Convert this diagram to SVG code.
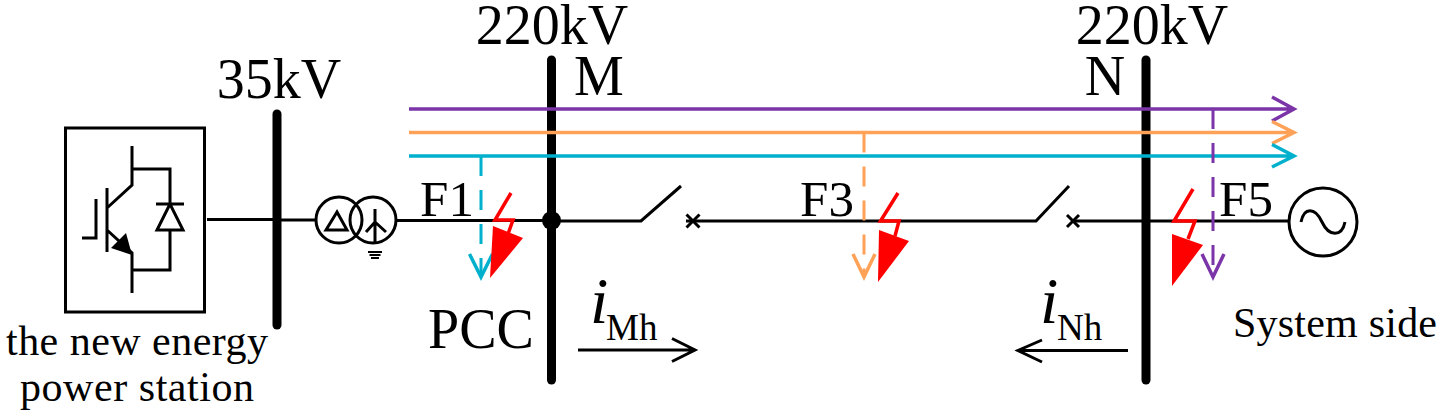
<svg xmlns="http://www.w3.org/2000/svg" width="1442" height="417" viewBox="0 0 1442 417">
<style>
.l{fill:none;stroke:#000;stroke-width:3}
.bus{fill:none;stroke:#000;stroke-width:9;stroke-linecap:round}
.t{font-family:"Liberation Serif",serif;fill:#000}
.big{font-size:56px}
.f{font-size:51px}
.sm{font-size:42px}
.i{font-size:66px;font-style:italic}
.sub{font-size:37px}
.pu{stroke:#7b35a8}.or{stroke:#ffa257}.cy{stroke:#00b0cc}
.w{fill:none;stroke-width:3.5}
.d{stroke-dasharray:20 14;stroke-width:3;fill:none}
.r{fill:none;stroke:#f00;stroke-width:3.5}
</style>
<rect width="1442" height="417" fill="#fff"/>
<g id="connectors">
<path class="l" d="M207 219.500H277M277 220H317M397 220.500H551M551 221H641L681 186M686 221H1036L1069 186M1073 221H1289"/>
</g>
<g id="station">
<rect x="65.500" y="128" width="139" height="184" fill="none" stroke="#000" stroke-width="3"/>
<path class="l" d="M132 146V185L107 208M107 188V252M96 199V238H82M107 230L132 253V293M132 169H170V204M132 270H170V230M156 204H184M170 204L157 230H183Z"/>
<path d="M111 248L126 233L132 255Z" fill="#000"/>
<text class="t sm" x="6" y="355" textLength="262" lengthAdjust="spacing">the new energy</text>
<text class="t sm" x="20" y="401" textLength="234" lengthAdjust="spacing">power station</text>
</g>
<g id="bus35">
<path class="bus" d="M277 114V325"/>
<text class="t big" x="279" y="98" text-anchor="middle">35kV</text>
</g>
<g id="transformer">
<circle cx="339" cy="220" r="23" fill="#fff" stroke="#000" stroke-width="3"/>
<circle cx="373" cy="220" r="23" fill="none" stroke="#000" stroke-width="3"/>
<path class="l" d="M337 212L326 230H347Z"/>
<path class="l" d="M375 209V243M366 232L375 222L386 232"/>
<path d="M368 252H382M369.500 255H380.500M371 258H379" stroke="#000" stroke-width="2" fill="none"/>
</g>
<g id="busM">
<path class="bus" d="M551.500 60V380"/>
<circle cx="551.500" cy="220.500" r="9.500" fill="#000"/>
<text class="t big" x="552" y="44" text-anchor="middle">220kV</text>
<text class="t big" x="599" y="95" text-anchor="middle">M</text>
<text class="t big" x="481" y="348" text-anchor="middle">PCC</text>
</g>
<g id="busN">
<path class="bus" d="M1146 60V380"/>
<text class="t big" x="1152" y="44" text-anchor="middle">220kV</text>
<text class="t big" x="1105" y="95" text-anchor="middle">N</text>
</g>
<g id="lines">
<path class="w pu" d="M409 109H1294M1272 97L1294 109L1272 121"/>
<path class="w or" d="M409 132.500H1294M1272 121.500L1294 132.500L1272 143.500"/>
<path class="w cy" d="M409 156H1294M1272 144.500L1294 156L1272 167"/>
<path class="d cy" d="M481 156V275"/><path class="w cy" d="M469.500 254L481 277L492.500 254"/>
<path class="d or" d="M864 132.500V275"/><path class="w or" d="M853 254L864 277L875 254"/>
<path class="d pu" d="M1213 109V275"/><path class="w pu" d="M1202 254L1213 277L1224 254"/>
</g>
<g id="switches">
<path d="M686.500 214.500L699.500 227.500M699.500 214.500L686.500 227.500M1067 215L1079 227M1079 215L1067 227" stroke="#000" stroke-width="3" fill="none"/>
</g>
<g id="F1">
<text class="t f" x="447" y="216" text-anchor="middle">F1</text>
<path class="r" d="M511 193L495 220H513L508 234"/>
<path d="M493 226L523 238L490 278Z" fill="#f00"/>
</g>
<g id="F3">
<text class="t f" x="827" y="216" text-anchor="middle">F3</text>
<path class="r" d="M898 193L880.500 221H899L895 236"/>
<path d="M879 230L909 241L878 282Z" fill="#f00"/>
</g>
<g id="F5">
<text class="t f" x="1246" y="216" text-anchor="middle">F5</text>
<path class="r" d="M1193 189L1174 221H1195L1188 239"/>
<path d="M1172 234L1203 245L1172 286Z" fill="#f00"/>
</g>
<g id="source">
<circle cx="1323" cy="222" r="34" fill="#fff" stroke="#000" stroke-width="3"/>
<path class="l" d="M1301 222C1304 207 1315 207 1322 222C1329 237 1342 237 1345 222"/>
<text class="t sm" x="1233" y="337" textLength="204" lengthAdjust="spacing">System side</text>
</g>
<g id="iM">
<text class="t i" x="590" y="323">i</text>
<text class="t sub" x="606" y="340">Mh</text>
<path class="l" d="M578 350H695M672 338.500L695 350L672 361.500"/>
</g>
<g id="iN">
<text class="t i" x="1040" y="323">i</text>
<text class="t sub" x="1057" y="340">Nh</text>
<path class="l" d="M1128 350.500H1018M1042 340L1018 350.500L1042 362"/>
</g>
</svg>
